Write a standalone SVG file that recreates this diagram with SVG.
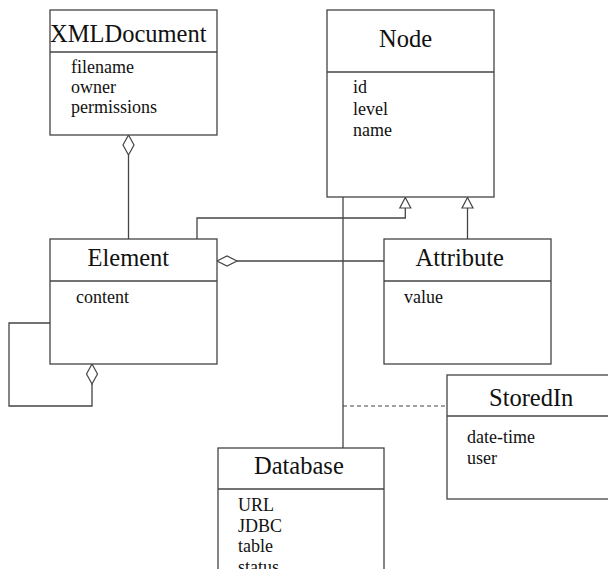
<svg xmlns="http://www.w3.org/2000/svg" width="608" height="569" viewBox="0 0 608 569">
<defs>
<style>
.box{fill:#fff;stroke:#444;stroke-width:1.3}
.sep{stroke:#444;stroke-width:1.3}
.ln{fill:none;stroke:#444;stroke-width:1.3}
.dash{fill:none;stroke:#444;stroke-width:1.2;stroke-dasharray:4 3}
.dia{fill:#fff;stroke:#444;stroke-width:1.2}
.tri{fill:#fff;stroke:#444;stroke-width:1.2}
.title{font-family:"Liberation Serif","Times New Roman",serif;font-size:24.5px;fill:#111}
.attr{font-family:"Liberation Serif","Times New Roman",serif;font-size:18px;fill:#111}
</style>
</defs>
<rect width="608" height="569" fill="#fff"/>
<g id="connectors">
<line class="ln" x1="128.5" y1="155" x2="128.5" y2="239"/>
<polygon class="dia" points="128.5,135 134,145 128.5,155 123,145"/>
<polyline class="ln" points="197,239 197,218 405.3,218 405.3,208"/>
<polygon class="tri" points="405.3,197.5 410.8,208 399.8,208"/>
<line class="ln" x1="467.5" y1="208" x2="467.5" y2="239"/>
<polygon class="tri" points="467.5,197.5 473,208 462,208"/>
<line class="ln" x1="343" y1="197" x2="343" y2="448"/>
<line class="ln" x1="237" y1="261" x2="384" y2="261"/>
<polygon class="dia" points="217,261 227,256 237,261 227,266"/>
<polyline class="ln" points="92,384 92,406 9,406 9,323 50,323"/>
<polygon class="dia" points="92,364 97.5,374 92,384 86.5,374"/>
<line class="dash" x1="343" y1="406" x2="447" y2="406"/>
</g>
<g id="XMLDocument">
<rect class="box" x="50" y="10" width="167" height="125"/>
<line class="sep" x1="50" y1="52" x2="217" y2="52"/>
<text class="title" x="50" y="42">XMLDocument</text>
<text class="attr" x="71" y="73">filename</text>
<text class="attr" x="71" y="93">owner</text>
<text class="attr" x="71" y="113">permissions</text>
</g>
<g id="Node">
<rect class="box" x="327" y="10" width="167" height="187"/>
<line class="sep" x1="327" y1="72" x2="494" y2="72"/>
<text class="title" x="379" y="47">Node</text>
<text class="attr" x="353" y="93">id</text>
<text class="attr" x="353" y="115">level</text>
<text class="attr" x="353" y="136">name</text>
</g>
<g id="Element">
<rect class="box" x="50" y="239" width="167" height="125"/>
<line class="sep" x1="50" y1="281" x2="217" y2="281"/>
<text class="title" x="87.5" y="266">Element</text>
<text class="attr" x="76" y="303">content</text>
</g>
<g id="Attribute">
<rect class="box" x="384" y="239" width="167" height="125"/>
<line class="sep" x1="384" y1="281" x2="551" y2="281"/>
<text class="title" x="415.5" y="266">Attribute</text>
<text class="attr" x="404" y="303">value</text>
</g>
<g id="StoredIn">
<rect class="box" x="447" y="375" width="175" height="124"/>
<line class="sep" x1="447" y1="416" x2="622" y2="416"/>
<text class="title" x="489" y="406">StoredIn</text>
<text class="attr" x="467" y="443">date-time</text>
<text class="attr" x="467" y="464">user</text>
</g>
<g id="Database">
<rect class="box" x="218" y="448" width="166" height="140"/>
<line class="sep" x1="218" y1="489" x2="384" y2="489"/>
<text class="title" x="254" y="474">Database</text>
<text class="attr" x="238" y="511">URL</text>
<text class="attr" x="238" y="532">JDBC</text>
<text class="attr" x="238" y="552">table</text>
<text class="attr" x="238" y="573">status</text>
</g>
</svg>
